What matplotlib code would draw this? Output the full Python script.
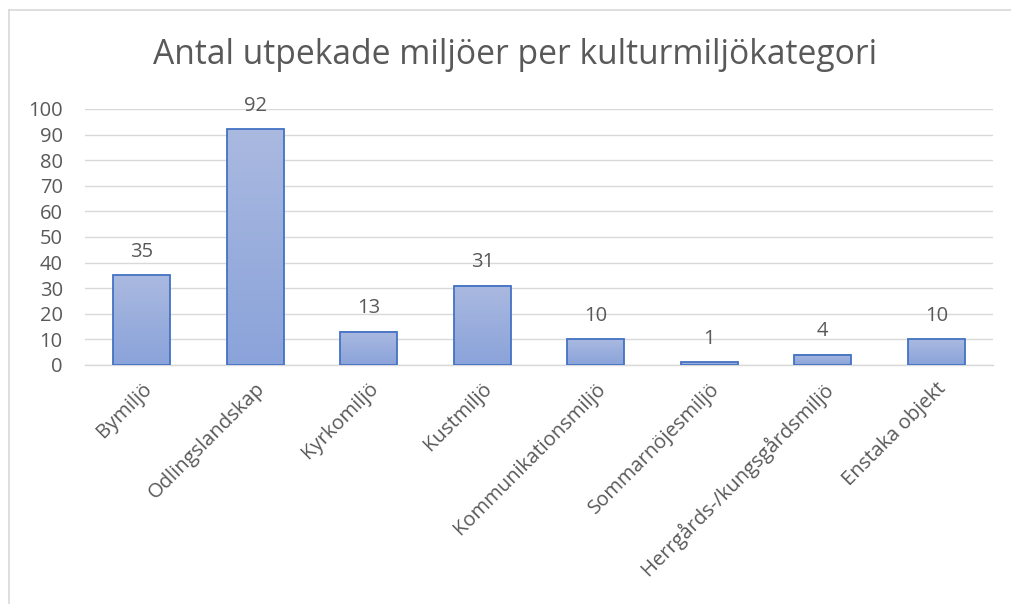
import matplotlib
matplotlib.use("Agg")
import matplotlib.pyplot as plt
import numpy as np
from matplotlib.colors import LinearSegmentedColormap
from matplotlib.patches import Rectangle
from matplotlib.lines import Line2D

categories = ["Bymiljö", "Odlingslandskap", "Kyrkomiljö", "Kustmiljö",
              "Kommunikationsmiljö", "Sommarnöjesmiljö",
              "Herrgårds-/kungsgårdsmiljö", "Enstaka objekt"]
values = [35, 92, 13, 31, 10, 1, 4, 10]
yticks = [0, 10, 20, 30, 40, 50, 60, 70, 80, 90, 100]
title = "Antal utpekade miljöer per kulturmiljökategori"

plt.rcParams['font.family'] = ['Open Sans', 'DejaVu Sans']
gray = "#595959"
fs = 14.5

fig = plt.figure(figsize=(10.12, 6.04), dpi=100)
ax = fig.add_axes([85/1012, 1-365/604, (993-85)/1012, (365-109)/604])

x = np.arange(len(categories))
width = 0.5
cmap = LinearSegmentedColormap.from_list("g", ["#8AA3DA", "#AAB9E0"])
grad = np.linspace(0, 1, 256).reshape(-1, 1)
for xi, v in zip(x, values):
    ax.imshow(grad, extent=(xi - width/2, xi + width/2, 0, v), origin='lower',
              aspect='auto', cmap=cmap, zorder=2)
    ax.add_patch(Rectangle((xi - width/2, 0), width, v, fill=False,
                           edgecolor="#4472C4", linewidth=1.3, zorder=3))
    ax.annotate(str(v), (xi, v), xytext=(0, 10), textcoords='offset points',
                ha='center', va='bottom', color=gray, fontsize=fs)

ax.set_xlim(-0.5, len(categories) - 0.5)
ax.set_ylim(0, 100)
ax.set_yticks(yticks)
ax.set_yticklabels([str(t) for t in yticks], color=gray, fontsize=fs)
ax.set_xticks(x)
ax.set_xticklabels(categories, rotation=45, ha='right', va='top',
                   rotation_mode='anchor', color=gray, fontsize=fs)
ax.tick_params(axis='both', length=0)
ax.tick_params(axis='x', pad=10)
ax.tick_params(axis='y', pad=16)
ax.grid(axis='y', color="#D9D9D9", linewidth=1)
ax.set_axisbelow(True)
for s in ["top", "right", "left"]:
    ax.spines[s].set_visible(False)
ax.spines["bottom"].set_color("#D9D9D9")
ax.spines["bottom"].set_linewidth(1)

fig.text(515/1012, 1-55/604, title, ha='center', va='center', color=gray, fontsize=24.2)

# chart border (left and top visible)
fig.add_artist(Line2D([8.5/1012, 8.5/1012], [0, 1-9.5/604], transform=fig.transFigure,
                      color="#D9D9D9", linewidth=1.2))
fig.add_artist(Line2D([8.5/1012, 1], [1-9.5/604, 1-9.5/604], transform=fig.transFigure,
                      color="#D9D9D9", linewidth=1.2))

fig.savefig("out.png", dpi=100)
